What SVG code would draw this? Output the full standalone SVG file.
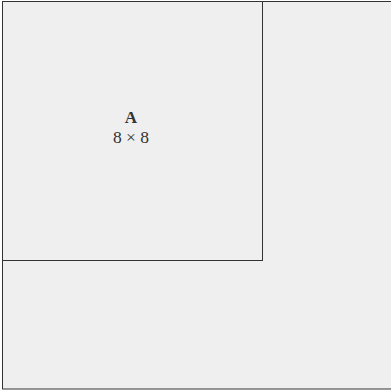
<svg xmlns="http://www.w3.org/2000/svg" width="391" height="391" viewBox="0 0 391 391">
<style>
.box{fill:#efefef;stroke:#333;stroke-width:1}
.t{font-family:"Liberation Serif",serif;fill:#333;text-anchor:middle}
</style>
<rect width="391" height="391" fill="#ffffff"/>
<g id="outer"><rect class="box" x="2.5" y="1.5" width="392" height="387.5"/></g>
<g id="A">
<rect class="box" x="2.5" y="1.5" width="260" height="259"/>
<text class="t" x="131" y="123" font-size="17" font-weight="bold">A</text>
<text class="t" x="131" y="142.5" font-size="17.5">8 × 8</text>
</g>
</svg>
